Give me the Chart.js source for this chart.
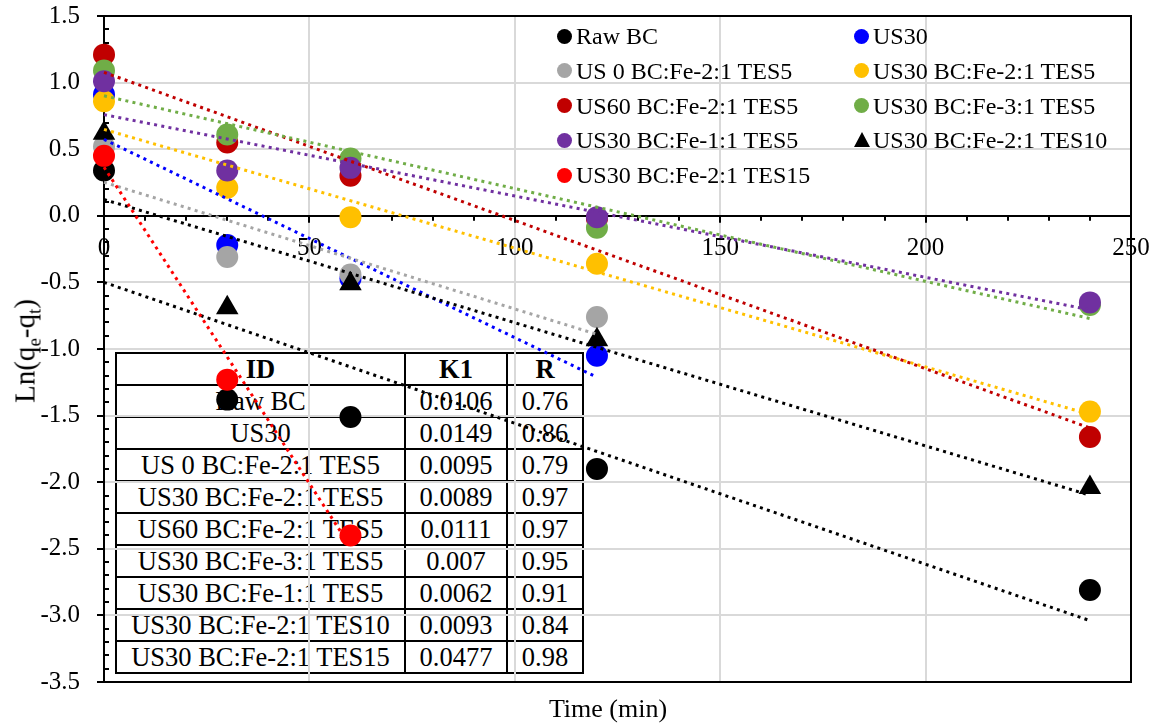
<!DOCTYPE html>
<html>
<head>
<meta charset="utf-8">
<script src="https://cdn.jsdelivr.net/npm/chart.js@4/dist/chart.umd.min.js"></script>
<style>
  html, body { margin: 0; padding: 0; background: #fff; }
  #wrap { position: relative; width: 1159px; height: 727px; font-family: 'Liberation Serif', 'Times New Roman', serif; color: #000; }
  #c { position: absolute; left: 0; top: 0; z-index: 1; }
  #tbl { position: absolute; left: 115px; top: 352px; z-index: 0; border-collapse: collapse; font-size: 26.5px; }
  #tbl td { border: 2px solid #000; height: 30px; padding: 0; text-align: center; line-height: 30px; white-space: nowrap; }
  #tbl tr:first-child td { font-weight: bold; }
  #legend { position: absolute; left: 0; top: 0; z-index: 2; font-size: 24px; }
  .item { position: absolute; height: 30px; line-height: 30px; white-space: nowrap; }
  .mk { position: absolute; top: 7.5px; width: 15px; height: 15px; border-radius: 50%; }
  .tri { position: absolute; top: 7px; width: 0; height: 0; border-left: 8px solid transparent; border-right: 8px solid transparent; border-bottom: 15px solid #000; }
  .axtitle { position: absolute; z-index: 2; white-space: nowrap; font-size: 26px; }
  #ytitle { left: 25px; top: 351px; transform: translate(-50%, -50%) rotate(-90deg); font-size: 29px; }
  #ytitle sub { font-size: 0.65em; vertical-align: -0.3em; line-height: 0; }
  #xtitle { left: 608px; top: 709px; transform: translate(-50%, -50%); }
</style>
</head>
<body>
<div id="wrap">
  <table id="tbl"></table>
  <canvas id="c" width="1159" height="727"></canvas>
  <div id="legend"></div>
  <div class="axtitle" id="ytitle">Ln(q<sub>e</sub>-q<sub>t</sub>)</div>
  <div class="axtitle" id="xtitle">Time (min)</div>
</div>
<script>
// sampling times (min)
const times = [0, 30, 60, 120, 240];

// ln(qe-qt)
const rawBC        = [0.34, -1.38, -1.51, -1.90, -2.81];
const us30         = [0.91, -0.22, -0.47, -1.05];
const us0Fe21Tes5  = [0.52, -0.31, -0.44, -0.76];
const us30Fe21Tes5 = [0.86, 0.21, -0.01, -0.36, -1.47];
const us60Fe21Tes5 = [1.21, 0.55, 0.30, -0.02, -1.66];
const us30Fe31Tes5 = [1.09, 0.61, 0.43, -0.09, -0.67];
const us30Fe11Tes5 = [1.01, 0.34, 0.36, -0.01, -0.65];
const us30Fe21Tes10 = [0.62, -0.69, -0.51, -0.93, -2.04];
const us30Fe21Tes15 = [0.45, -1.23, -2.40];

const seriesNames = [
  'Raw BC', 'US30', 'US 0 BC:Fe-2:1 TES5', 'US30 BC:Fe-2:1 TES5', 'US60 BC:Fe-2:1 TES5',
  'US30 BC:Fe-3:1 TES5', 'US30 BC:Fe-1:1 TES5', 'US30 BC:Fe-2:1 TES10', 'US30 BC:Fe-2:1 TES15'
];
const seriesValues = [rawBC, us30, us0Fe21Tes5, us30Fe21Tes5, us60Fe21Tes5,
  us30Fe31Tes5, us30Fe11Tes5, us30Fe21Tes10, us30Fe21Tes15];
const seriesColors = ['#000000', '#0000FF', '#A5A5A5', '#FFC000', '#C00000',
  '#70AD47', '#7030A0', '#000000', '#FF0000'];
const seriesShapes = ['circle', 'circle', 'circle', 'circle', 'circle',
  'circle', 'circle', 'triangle', 'circle'];

// table beside the plot
const tableK1 = ['0.0106', '0.0149', '0.0095', '0.0089', '0.0111', '0.007', '0.0062', '0.0093', '0.0477'];
const tableR  = ['0.76', '0.86', '0.79', '0.97', '0.97', '0.95', '0.91', '0.84', '0.98'];

Chart.defaults.font.family = "'Liberation Serif', 'Times New Roman', serif";
Chart.defaults.color = '#000';

// least squares trendline, like the spreadsheet one
function trend(vals) {
  const n = vals.length;
  const xs = times.slice(0, n);
  const mx = xs.reduce((a, b) => a + b, 0) / n;
  const my = vals.reduce((a, b) => a + b, 0) / n;
  let sxy = 0, sxx = 0;
  for (let i = 0; i < n; i++) {
    sxy += (xs[i] - mx) * (vals[i] - my);
    sxx += (xs[i] - mx) * (xs[i] - mx);
  }
  const k = sxy / sxx;
  const b = my - k * mx;
  return [{x: xs[0], y: b + k * xs[0]}, {x: xs[n - 1], y: b + k * xs[n - 1]}];
}

const datasets = [];
seriesValues.forEach((vals, i) => {
  datasets.push({
    label: seriesNames[i],
    data: vals.map((v, j) => ({x: times[j], y: v})),
    pointStyle: seriesShapes[i],
    pointRadius: seriesShapes[i] === 'triangle' ? 13 : 11,
    pointBackgroundColor: seriesColors[i],
    pointBorderColor: seriesColors[i],
    pointBorderWidth: 0,
    showLine: false,
    clip: false,
    order: 100 - i
  });
});
seriesValues.forEach((vals, i) => {
  datasets.push({
    label: seriesNames[i] + ' trend',
    data: trend(vals),
    showLine: true,
    pointRadius: 0,
    borderColor: seriesColors[i],
    borderWidth: 3,
    borderCapStyle: 'butt',
    borderDash: [3, 4.3],
    clip: false,
    order: 50 - i
  });
});

// frame round the plot, and the tick marks (long ones out, short ones in)
const frame = {
  id: 'frame',
  beforeDatasetsDraw(chart) {
    const a = chart.chartArea, ctx = chart.ctx;
    ctx.save();
    ctx.strokeStyle = '#000';
    ctx.lineWidth = 2;
    ctx.strokeRect(a.left, a.top, a.right - a.left, a.bottom - a.top);
    const xs = chart.scales.x, ys = chart.scales.y;
    const y0 = ys.getPixelForValue(0);
    ctx.beginPath();
    for (let t = 0; t <= 250; t += 10) {
      const px = Math.round(xs.getPixelForValue(t));
      ctx.moveTo(px, y0);
      ctx.lineTo(px, y0 + (t % 50 === 0 ? 7 : 5));
    }
    for (let k = -35; k <= 15; k++) {
      const py = Math.round(ys.getPixelForValue(k / 10));
      if (k % 5 === 0) {
        ctx.moveTo(a.left - 7, py);
        ctx.lineTo(a.left, py);
      } else {
        ctx.moveTo(a.left, py);
        ctx.lineTo(a.left + 5, py);
      }
    }
    ctx.stroke();
    ctx.restore();
  }
};

new Chart(document.getElementById('c'), {
  type: 'scatter',
  data: {datasets: datasets},
  options: {
    responsive: false,
    animation: false,
    devicePixelRatio: 1,
    layout: {padding: {left: 0, right: 28, top: 16, bottom: 45}},
    plugins: {legend: {display: false}, tooltip: {enabled: false}},
    scales: {
      x: {
        type: 'linear', min: 0, max: 250,
        position: {y: 0},
        ticks: {stepSize: 50, font: {size: 25}, padding: 0, maxRotation: 0},
        grid: {color: '#d9d9d9', lineWidth: 2, tickColor: 'rgba(0,0,0,0)', tickLength: 18},
        border: {color: '#000', width: 2}
      },
      y: {
        type: 'linear', min: -3.5, max: 1.5,
        position: 'left',
        ticks: {
          stepSize: 0.5, font: {size: 25}, padding: 1,
          callback: v => { const s = Number(v).toFixed(1); return s === '-0.0' ? '0.0' : s; }
        },
        grid: {color: '#d9d9d9', lineWidth: 2, tickColor: 'rgba(0,0,0,0)', tickLength: 23},
        border: {color: '#000', width: 2},
        afterFit(scale) { scale.width = 104; }
      }
    }
  },
  plugins: [frame]
});

// table
const tbl = document.getElementById('tbl');
const colW = [289, 102, 76];
const rows = [['ID', 'K1', 'R']].concat(seriesNames.map((n, i) => [n, tableK1[i], tableR[i]]));
rows.forEach(r => {
  const tr = document.createElement('tr');
  r.forEach((txt, j) => {
    const td = document.createElement('td');
    td.textContent = txt;
    td.style.width = (colW[j] - 2) + 'px';
    tr.appendChild(td);
  });
  tbl.appendChild(tr);
});

// two column legend inside the plot
const legend = document.getElementById('legend');
const colX = [557, 854];
seriesNames.forEach((name, i) => {
  const col = i % 2, row = Math.floor(i / 2);
  const it = document.createElement('div');
  it.className = 'item';
  it.style.left = colX[col] + 'px';
  it.style.top = (21 + row * 34.8) + 'px';
  const mk = document.createElement('span');
  if (seriesShapes[i] === 'triangle') {
    mk.className = 'tri';
    mk.style.borderBottomColor = seriesColors[i];
  } else {
    mk.className = 'mk';
    mk.style.background = seriesColors[i];
  }
  const tx = document.createElement('span');
  tx.textContent = name;
  tx.style.marginLeft = '19px';
  it.appendChild(mk);
  it.appendChild(tx);
  legend.appendChild(it);
});
</script>
</body>
</html>
